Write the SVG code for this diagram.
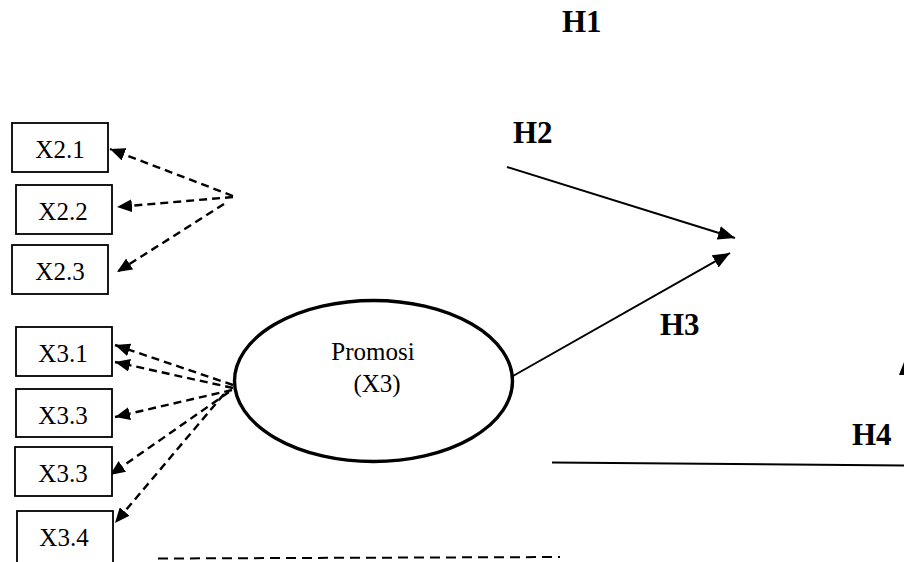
<svg xmlns="http://www.w3.org/2000/svg" width="904" height="562" viewBox="0 0 904 562">
  <style>
    .box { fill: #fff; stroke: #000; stroke-width: 1.8; }
    .lbl { font-family: 'Liberation Serif', 'Times New Roman', Tinos, serif; font-size: 25px; fill: #000; text-anchor: middle; }
    .hyp { font-family: 'Liberation Serif', 'Times New Roman', Tinos, serif; font-size: 31px; font-weight: bold; fill: #000; }
    .dash { fill: none; stroke: #000; stroke-width: 2.4; stroke-dasharray: 8 5; }
    .solid { fill: none; stroke: #000; stroke-width: 2; }
  </style>
  <defs>
    <marker id="head" markerUnits="userSpaceOnUse" markerWidth="16" markerHeight="13" refX="15" refY="6.5" orient="auto">
      <path d="M0,0 L15,6.5 L0,13 Z" fill="#000"/>
    </marker>
    <marker id="headBig" markerUnits="userSpaceOnUse" markerWidth="18" markerHeight="14" refX="17" refY="7" orient="auto">
      <path d="M0,0 L17,7 L0,14 Z" fill="#000"/>
    </marker>
  </defs>

  <rect width="904" height="562" fill="#fff"/>

  <!-- hypothesis labels -->
  <g font-family="Liberation Serif, serif">
    <text class="hyp" x="562" y="32">H1</text>
    <text class="hyp" x="513" y="143">H2</text>
    <text class="hyp" x="660" y="335">H3</text>
    <text class="hyp" x="852" y="445">H4</text>
  </g>

  <g id="connectors">
    <!-- indicator arrows for X2 -->
    <line class="dash" x1="233" y1="196" x2="110" y2="149" marker-end="url(#head)"/>
    <line class="dash" x1="233" y1="197" x2="117" y2="207" marker-end="url(#head)"/>
    <line class="dash" x1="224" y1="204" x2="117" y2="272" marker-end="url(#head)"/>
    <!-- indicator arrows for X3 -->
    <line class="dash" x1="233" y1="385" x2="115" y2="345" marker-end="url(#head)"/>
    <line class="dash" x1="233" y1="388" x2="115" y2="362" marker-end="url(#head)"/>
    <line class="dash" x1="232" y1="390" x2="115" y2="417" marker-end="url(#head)"/>
    <line class="dash" x1="229" y1="392" x2="110" y2="475" marker-end="url(#head)"/>
    <line class="dash" x1="224" y1="394" x2="115" y2="523" marker-end="url(#head)"/>
    <!-- structural paths -->
    <line class="solid" x1="507" y1="167" x2="735" y2="238" marker-end="url(#headBig)"/>
    <line class="solid" x1="513" y1="376" x2="730" y2="253" marker-end="url(#headBig)"/>
    <line class="solid" x1="552" y1="462.5" x2="904" y2="465.5"/>
    <line class="dash" x1="158" y1="558.5" x2="560" y2="557" style="stroke-width:2;stroke-dasharray:10 6"/>
    <path d="M899,375 L904,362 L904,375 Z" fill="#000"/>
  </g>

  <g id="x2-1" font-family="Liberation Serif, serif"><rect class="box" x="12" y="123" width="96" height="49"/><text class="lbl" x="60" y="158">X2.1</text></g>
  <g id="x2-2" font-family="Liberation Serif, serif"><rect class="box" x="16" y="185" width="96" height="49"/><text class="lbl" x="63" y="220">X2.2</text></g>
  <g id="x2-3" font-family="Liberation Serif, serif"><rect class="box" x="12" y="245" width="96" height="49"/><text class="lbl" x="60" y="280">X2.3</text></g>

  <g id="x3-1" font-family="Liberation Serif, serif"><rect class="box" x="16" y="327" width="96" height="49"/><text class="lbl" x="63" y="362">X3.1</text></g>
  <g id="x3-3a" font-family="Liberation Serif, serif"><rect class="box" x="16" y="389" width="96" height="48"/><text class="lbl" x="63" y="424">X3.3</text></g>
  <g id="x3-3b" font-family="Liberation Serif, serif"><rect class="box" x="15" y="447" width="97" height="49"/><text class="lbl" x="63" y="482">X3.3</text></g>
  <g id="x3-4" font-family="Liberation Serif, serif"><rect class="box" x="17" y="511" width="96" height="52"/><text class="lbl" x="64" y="546">X3.4</text></g>

  <g id="promosi" font-family="Liberation Serif, serif">
    <ellipse cx="373.5" cy="381" rx="139" ry="80.5" fill="none" stroke="#000" stroke-width="3.4"/>
    <text class="lbl" x="373" y="360">Promosi</text>
    <text class="lbl" x="377" y="392">(X3)</text>
  </g>
</svg>
